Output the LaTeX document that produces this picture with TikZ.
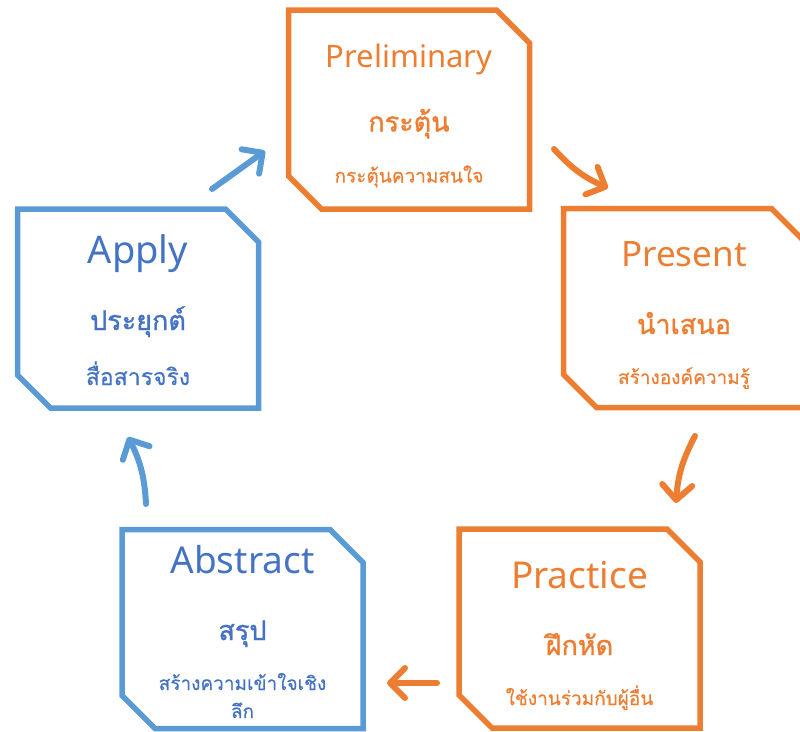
\documentclass[tikz,border=0pt]{standalone}
\usepackage{fontspec}
\setmainfont{Noto Sans}
\newfontfamily\thai[Script=Thai,FakeBold=0.4]{Loma}
\newfontfamily\thaimed[Script=Thai,FakeBold=1.2]{Loma}
\usetikzlibrary{arrows.meta,calc}
\definecolor{org}{HTML}{ED7D31}
\definecolor{blu}{HTML}{5B9BD5}
\definecolor{blut}{HTML}{4472C4}
\newcommand{\chambox}[2]{%
  \draw[boxline, draw=#2] (#1.north west) -- ($(#1.north east)+(-33,0)$) -- ($(#1.north east)+(0,33)$)
    -- (#1.south east) -- ($(#1.south west)+(33,0)$) -- ($(#1.south west)+(0,-33)$) -- cycle;}
\begin{document}
\begin{tikzpicture}[x=1pt,y=-1pt,
  box/.style={rectangle, minimum width=241pt, minimum height=199pt, inner sep=0pt, outer sep=0pt},
  boxline/.style={line width=5.5pt, line join=miter},
  ttl/.style={anchor=base, inner sep=0pt, font=\fontsize{#1}{#1}\selectfont},
  thb/.style={anchor=base, inner sep=0pt, font=\thaimed\fontsize{#1}{#1}\selectfont},
  thr/.style={anchor=base, inner sep=0pt, font=\thai\fontsize{#1}{#1}\selectfont},
  arr/.style={line width=6pt, line cap=round,
    -{Straight Barb[length=15pt,width=30pt,line cap=round,line join=round]}}
]
\useasboundingbox (0,0) rectangle (800,731);
\clip (0,0) rectangle (800,731);

% boxes
\node[box] (prel) at (409,109.5) {};
\node[box] (pres) at (684,308) {};
\node[box] (prac) at (579.5,628.5) {};
\node[box] (abst) at (242.5,629) {};
\node[box] (appl) at (138,308.5) {};
\chambox{prel}{org}
\chambox{pres}{org}
\chambox{prac}{org}
\chambox{abst}{blu}
\chambox{appl}{blu}

% Preliminary
\node[ttl=31, text=org] (t1a) at (409,67) {Preliminary};
\node[thb=27, text=org] (t1b) at (409,131.5) {กระตุ้น};
\node[thr=19, text=org] (t1c) at (409,182.5) {กระตุ้นความสนใจ};
% Present
\node[ttl=35, text=org] (t2a) at (684,266.5) {Present};
\node[thb=27, text=org] (t2b) at (684,334) {นำเสนอ};
\node[thr=19, text=org] (t2c) at (684,384) {สร้างองค์ความรู้};
% Practice
\node[ttl=37, text=org] (t3a) at (579.5,588) {Practice};
\node[thb=27, text=org] (t3b) at (579.5,655) {ฝึกหัด};
\node[thr=19, text=org] (t3c) at (579.5,705) {ใช้งานร่วมกับผู้อื่น};
% Abstract
\node[ttl=37, text=blut] (t4a) at (242.5,573) {Abstract};
\node[thb=27, text=blut] (t4b) at (242.5,640) {สรุป};
\node[thr=19, text=blut] (t4c) at (242.5,690) {สร้างความเข้าใจเชิง};
\node[thr=19, text=blut] (t4d) at (242.5,718) {ลึก};
% Apply
\node[ttl=38, text=blut] (t5a) at (138,263) {Apply};
\node[thb=27, text=blut] (t5b) at (138,330) {ประยุกต์};
\node[thr=23, text=blut] (t5c) at (138,385) {สื่อสารจริง};

% arrows
\coordinate (a1s) at (212,189);
\coordinate (a1e) at (265,151);
\coordinate (a2s) at (554,149);
\coordinate (a2e) at (608,188);
\coordinate (a3s) at (695,436);
\coordinate (a3e) at (676,503);
\coordinate (a4s) at (437,683);
\coordinate (a4e) at (387,683);
\coordinate (a5s) at (146,504);
\coordinate (a5e) at (128,437);
\draw[arr, blu] (a1s) -- (a1e);
\draw[arr, org] (a2s) to[bend right=12] (a2e);
\draw[arr, org] (a3s) to[bend right=12] (a3e);
\draw[arr, org] (a4s) -- (a4e);
\draw[arr, blu] (a5s) to[bend right=12] (a5e);
\end{tikzpicture}
\end{document}
